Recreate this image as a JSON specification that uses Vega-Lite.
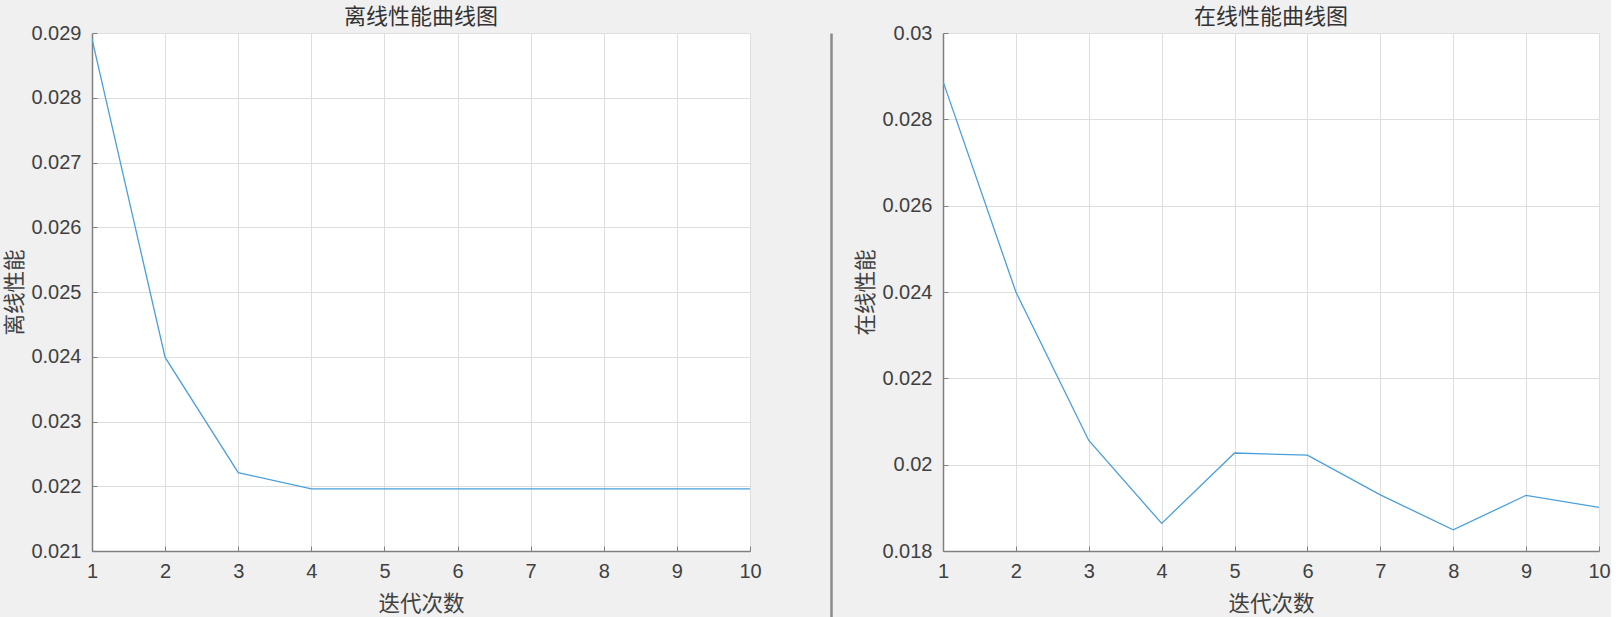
{
  "$schema": "https://vega.github.io/schema/vega-lite/v6.json",
  "background": "#f0f0f0",
  "padding": {"left": 4, "top": 5, "right": 0, "bottom": 0},
  "bounds": "flush",
  "spacing": 81,
  "datasets": {
    "offline": [
      {"iter": 1, "perf": 0.02891},
      {"iter": 2, "perf": 0.02399},
      {"iter": 3, "perf": 0.02221},
      {"iter": 4, "perf": 0.02196},
      {"iter": 5, "perf": 0.02196},
      {"iter": 6, "perf": 0.02196},
      {"iter": 7, "perf": 0.02196},
      {"iter": 8, "perf": 0.02196},
      {"iter": 9, "perf": 0.02196},
      {"iter": 10, "perf": 0.02196}
    ],
    "online": [
      {"iter": 1, "perf": 0.02888},
      {"iter": 2, "perf": 0.02400},
      {"iter": 3, "perf": 0.02056},
      {"iter": 4, "perf": 0.01864},
      {"iter": 5, "perf": 0.02027},
      {"iter": 6, "perf": 0.02022},
      {"iter": 7, "perf": 0.01930},
      {"iter": 8, "perf": 0.01849},
      {"iter": 9, "perf": 0.01929},
      {"iter": 10, "perf": 0.01901}
    ],
    "divider": [{"k": "d"}]
  },
  "hconcat": [
    {
      "width": 658,
      "height": 518,
      "title": {"text": "离线性能曲线图"},
      "data": {"name": "offline"},
      "mark": {"type": "line", "color": "#4a9fdb", "strokeWidth": 1.3, "clip": true},
      "encoding": {
        "x": {
          "field": "iter", "type": "quantitative",
          "scale": {"domain": [1, 10], "nice": false, "zero": false},
          "axis": {"title": "迭代次数", "values": [1, 2, 3, 4, 5, 6, 7, 8, 9, 10], "format": "d"}
        },
        "y": {
          "field": "perf", "type": "quantitative",
          "scale": {"domain": [0.021, 0.029], "nice": false, "zero": false},
          "axis": {"title": "离线性能", "values": [0.021, 0.022, 0.023, 0.024, 0.025, 0.026, 0.027, 0.028, 0.029], "format": ".3~f"}
        }
      }
    },
    {
      "width": 31,
      "height": 585,
      "view": {"fill": null, "stroke": null},
      "data": {"name": "divider"},
      "mark": {"type": "rect", "opacity": 0},
      "encoding": {
        "y": {
          "field": "k", "type": "nominal",
          "axis": {"title": null, "labels": false, "ticks": false, "grid": false, "domain": true, "domainColor": "#8a8a8a", "domainWidth": 2.5}
        }
      }
    },
    {
      "width": 656,
      "height": 518,
      "title": {"text": "在线性能曲线图"},
      "data": {"name": "online"},
      "mark": {"type": "line", "color": "#4a9fdb", "strokeWidth": 1.3, "clip": true},
      "encoding": {
        "x": {
          "field": "iter", "type": "quantitative",
          "scale": {"domain": [1, 10], "nice": false, "zero": false},
          "axis": {"title": "迭代次数", "values": [1, 2, 3, 4, 5, 6, 7, 8, 9, 10], "format": "d"}
        },
        "y": {
          "field": "perf", "type": "quantitative",
          "scale": {"domain": [0.018, 0.03], "nice": false, "zero": false},
          "axis": {"title": "在线性能", "values": [0.018, 0.02, 0.022, 0.024, 0.026, 0.028, 0.03], "format": ".3~f"}
        }
      }
    }
  ],
  "config": {
    "view": {"stroke": null, "fill": "white"},
    "font": "Liberation Sans",
    "title": {
      "font": "Noto Sans CJK SC",
      "fontSize": 22,
      "fontWeight": "normal",
      "color": "#333333",
      "offset": -5.5,
      "anchor": "middle"
    },
    "axis": {
      "domainColor": "#808080",
      "domainWidth": 1.5,
      "tickColor": "#808080",
      "tickSize": -5,
      "tickWidth": 1,
      "gridColor": "#dedede",
      "gridWidth": 1,
      "labelFont": "Liberation Sans",
      "labelFontSize": 20,
      "labelColor": "#404040",
      "titleFont": "Noto Sans CJK SC",
      "titleFontSize": 21.5,
      "titleFontWeight": "normal",
      "titleColor": "#404040",
      "labelOverlap": false,
      "labelFlush": false
    },
    "axisX": {"labelPadding": 15, "titlePadding": 12},
    "axisY": {"labelPadding": 16, "titlePadding": 4.5}
  }
}
